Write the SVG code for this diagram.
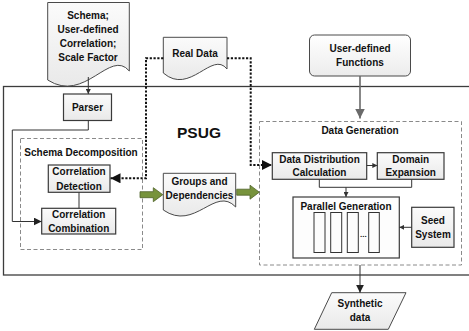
<svg xmlns="http://www.w3.org/2000/svg" width="469" height="331" viewBox="0 0 469 331">
  <defs>
    <linearGradient id="boxFill" x1="0" y1="0" x2="0" y2="1">
      <stop offset="0" stop-color="#fbfbfb"/>
      <stop offset="1" stop-color="#e9e9e9"/>
    </linearGradient>
    <linearGradient id="roundFill" x1="0" y1="0" x2="0" y2="1">
      <stop offset="0" stop-color="#ffffff"/>
      <stop offset="1" stop-color="#ececec"/>
    </linearGradient>
    <marker id="arrowSmall" viewBox="0 0 10 10" refX="10" refY="5" markerWidth="5" markerHeight="5" markerUnits="userSpaceOnUse" orient="auto">
      <path d="M0,0 L10,5 L0,10 z" fill="#333"/>
    </marker>
    <marker id="arrowMid" viewBox="0 0 10 10" refX="10" refY="5" markerWidth="8" markerHeight="8" markerUnits="userSpaceOnUse" orient="auto">
      <path d="M0,0 L10,5 L0,10 z" fill="#222"/>
    </marker>
    <marker id="arrowGray" viewBox="0 0 10 10" refX="10" refY="5" markerWidth="10" markerHeight="10" markerUnits="userSpaceOnUse" orient="auto">
      <path d="M0,0 L10,5 L0,10 z" fill="#6a6a6a"/>
    </marker>
    <marker id="arrowDot" viewBox="0 0 10 10" refX="10" refY="5" markerWidth="10" markerHeight="10" markerUnits="userSpaceOnUse" orient="auto">
      <path d="M0,0 L10,5 L0,10 z" fill="#111"/>
    </marker>
  </defs>
  <style>
    text { font-family: "Liberation Sans", Arial, sans-serif; font-weight: bold; font-size: 10px; fill: #111; text-anchor: middle; }
    .title { font-size: 15.5px; }
    .box { fill: url(#boxFill); stroke: #3a3a3a; stroke-width: 1.2; }
    .doc { fill: url(#boxFill); stroke: #4a4a4a; stroke-width: 1; }
    .lane { fill: none; stroke: #8a8a8a; stroke-width: 1; stroke-dasharray: 4 2.5; }
    .frame { fill: none; stroke: #3c3c3c; stroke-width: 1.3; }
    .slot { fill: #fdfdfd; stroke: #333; stroke-width: 1; }
    .link { fill: none; stroke: #333; stroke-width: 1; }
    .dot { fill: none; stroke: #111; stroke-width: 2; stroke-dasharray: 2.2 1.6; }
    .fat { fill: #77933c; stroke: #4f6228; stroke-width: 0.8; }
  </style>

  <!-- PSUG frame -->
  <rect class="frame" x="3.5" y="86.5" width="470" height="188.5"/>
  <text class="title" x="199" y="138">PSUG</text>

  <!-- dashed groupings -->
  <g id="schema-decomposition">
    <rect class="lane" x="20.5" y="138.5" width="122" height="111"/>
    <text x="81" y="156">Schema Decomposition</text>
  </g>
  <g id="data-generation">
    <rect class="lane" x="259.5" y="121.5" width="202" height="143.5"/>
    <text x="360" y="133.5">Data Generation</text>
  </g>

  <!-- nodes -->
  <g id="schema-input">
    <path class="doc" d="M47.7,2.5 H129.3 V71 C110,48 85,104 47.7,80 Z"/>
    <text x="88" y="18.5">Schema;</text>
    <text x="88" y="32.5">User-defined</text>
    <text x="88" y="46.5">Correlation;</text>
    <text x="88" y="60.5">Scale Factor</text>
  </g>
  <g id="real-data">
    <path class="doc" d="M163.3,37.3 H227 V69 C212,50 190,96 163.3,73 Z"/>
    <text x="195" y="57">Real Data</text>
  </g>
  <g id="user-functions">
    <rect x="309.5" y="35" width="101" height="41" rx="5" ry="5" fill="url(#roundFill)" stroke="#4a4a4a" stroke-width="1"/>
    <text x="360" y="52">User-defined</text>
    <text x="360" y="66">Functions</text>
  </g>
  <g id="parser">
    <rect class="box" x="63.5" y="94" width="48" height="26.5"/>
    <text x="87.5" y="110.5">Parser</text>
  </g>
  <g id="correlation-detection">
    <rect class="box" x="48.3" y="165" width="61.7" height="27.3"/>
    <text x="79" y="175.3">Correlation</text>
    <text x="79" y="189.5">Detection</text>
  </g>
  <g id="correlation-combination">
    <rect class="box" x="41.7" y="208.3" width="74" height="25.7"/>
    <text x="78.7" y="218">Correlation</text>
    <text x="78.7" y="232">Combination</text>
  </g>
  <g id="groups-dependencies">
    <path class="doc" d="M163.3,173.3 H235.7 V207 C215,185 195,232 163.3,210 Z"/>
    <text x="199.5" y="185.2">Groups and</text>
    <text x="199.5" y="198.7">Dependencies</text>
  </g>
  <g id="distribution-calculation">
    <rect class="box" x="272.3" y="152.7" width="94.4" height="26.6"/>
    <text x="319.5" y="162.8">Data Distribution</text>
    <text x="319.5" y="176.2">Calculation</text>
  </g>
  <g id="domain-expansion">
    <rect class="box" x="377.3" y="152.7" width="66.7" height="26.6"/>
    <text x="410.7" y="162.8">Domain</text>
    <text x="410.7" y="176.2">Expansion</text>
  </g>
  <g id="parallel-generation">
    <rect class="box" x="293" y="197" width="106.3" height="61" style="fill:#fdfdfd"/>
    <text x="346" y="209.5">Parallel Generation</text>
    <rect class="slot" x="314" y="212.5" width="11" height="40"/>
    <rect class="slot" x="330.7" y="212.5" width="11" height="40"/>
    <rect class="slot" x="347.3" y="212.5" width="11" height="40"/>
    <rect class="slot" x="368.7" y="212.5" width="10.6" height="40"/>
    <text x="363.3" y="237" style="font-size:8px">...</text>
  </g>
  <g id="seed-system">
    <rect class="box" x="411.7" y="207.3" width="42.3" height="40"/>
    <text x="433" y="223.5">Seed</text>
    <text x="433" y="237.8">System</text>
  </g>
  <g id="synthetic-data">
    <path class="doc" d="M331.7,292.7 H406 L388.3,329.3 H314.3 Z"/>
    <text x="360" y="306.8">Synthetic</text>
    <text x="360" y="321.2">data</text>
  </g>

  <!-- connectors -->
  <g id="connectors">
    <path class="link" d="M88.3,77 V94" marker-end="url(#arrowSmall)"/>
    <path class="link" d="M88.3,120.5 V130 H12.3 V221.5 H41.7" marker-end="url(#arrowMid)"/>
    <path class="link" d="M79,192.3 V208.3"/>
    <path class="dot" d="M163.3,58.3 H146 V178.3 H110.5" marker-end="url(#arrowDot)"/>
    <path class="dot" d="M227,58.3 H250.7 V165 H272" marker-end="url(#arrowDot)"/>
    <path d="M360,76 V118.5" fill="none" stroke="#6a6a6a" stroke-width="1.6" marker-end="url(#arrowGray)"/>
    <path class="link" d="M366.7,165.5 H377.3" marker-end="url(#arrowSmall)"/>
    <path class="link" d="M319.3,179.3 V187.3 H411.7 V179.3"/>
    <path class="link" d="M346,187.3 V197" marker-end="url(#arrowSmall)"/>
    <path class="link" d="M411.7,227.3 H399.3" marker-end="url(#arrowSmall)"/>
    <path class="link" d="M360,265 V292.7" stroke-width="1.2" marker-end="url(#arrowMid)"/>
    <path class="fat" d="M140,191.7 H153.3 V187.7 L162.8,194.7 L153.3,201.7 V197.7 H140 Z"/>
    <path class="fat" d="M236.7,189.2 H250 V185.2 L259.3,192.2 L250,199.2 V195.2 H236.7 Z"/>
  </g>
</svg>
